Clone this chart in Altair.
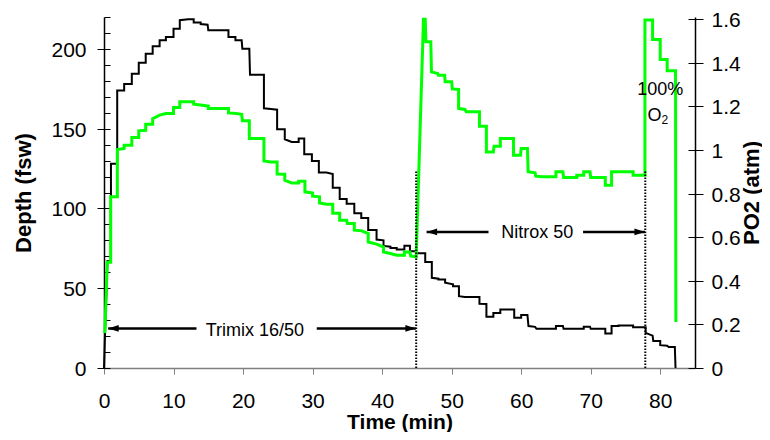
import altair as alt
import pandas as pd

# ---------------- data ----------------
# Depth profile vertices: (time [min], depth [fsw])
DEPTH_PROFILE = [
    (0, 0), (0.15, 22), (0.5, 67), (1.0, 67), (1.0, 128), (1.9, 128), (1.9, 174),
    (2.9, 174), (2.9, 178), (4.0, 178), (4.0, 184.4), (5.0, 184.4), (5.0, 191.3),
    (6.0, 191.3), (6.0, 197), (7.0, 197), (7.0, 201.6), (8.0, 201.6), (8.0, 205.4),
    (8.9, 205.4), (8.9, 207.5), (10.0, 207.5), (10.0, 212.7), (10.9, 212.7),
    (10.9, 218), (12.1, 218.6), (12.9, 218.6), (12.9, 216.5), (13.9, 216.5),
    (13.9, 215.6), (14.9, 215.2), (15.0, 211.7), (17.9, 211.7), (17.9, 207.5),
    (18.9, 207.5), (18.9, 205.4), (19.8, 205.4), (19.9, 200.1), (20.9, 200.1),
    (21.0, 183.8), (23.0, 183.8), (23.0, 162.8), (24.0, 162.3), (24.9, 161.9),
    (24.9, 149.7), (26.0, 149.7), (26.0, 143.4), (27.0, 141.7), (28.0, 141.7),
    (28.0, 143.9), (28.8, 143.9), (28.8, 134), (29.9, 134), (29.9, 129.8),
    (30.9, 129.8), (30.9, 122.5), (32.0, 122.5), (32.9, 121.6), (32.9, 113),
    (33.9, 113), (33.9, 106), (34.9, 106), (34.9, 103), (36.0, 103), (36.0, 97),
    (37.0, 97), (37.0, 94), (38.0, 94), (38.0, 86.5), (39.2, 86.5), (39.2, 80.5),
    (40.2, 80), (40.2, 76.5), (41.2, 76), (41.2, 75.2), (42.1, 75.2), (42.1, 74.3),
    (43.2, 74.3), (43.2, 76.7), (44.0, 76.7), (44.0, 73.2), (44.9, 73.2),
    (44.9, 72), (46.2, 72), (46.2, 66.5), (47.15, 66.5), (47.15, 56.5), (48.1, 56),
    (48.1, 55.5), (49.06, 55.5), (49.06, 53.5), (50.2, 52.5), (50.2, 51.3),
    (51.05, 51.3), (51.05, 45), (51.9, 44.5), (54.0, 44.5), (54.0, 40.3),
    (55.0, 40.1), (55.0, 32.1), (56.0, 32.1), (56.0, 34.4), (57.0, 34.4),
    (57.0, 36.6), (59.0, 36.6), (59.0, 31.5), (60.0, 31.5), (60.0, 33.2),
    (60.9, 33.2), (61.05, 26.3), (62.0, 25.8), (62.2, 24.6), (65.0, 24.6),
    (65.0, 26.3), (66.0, 26.3), (66.1, 24.6), (69.0, 24.6), (69.0, 25.8),
    (69.9, 25.8), (70.0, 24.6), (72.1, 24.6), (72.1, 21.7), (73.0, 21.7),
    (73.0, 26.3), (74.0, 26.3), (74.0, 26.7), (76.1, 26.7), (76.1, 25.6),
    (77.9, 25.6), (77.9, 22.0), (78.9, 20.3), (79.0, 17.0), (80.0, 17.0),
    (80.0, 14.3), (81.0, 14.0), (81.2, 13.2), (82.1, 13.2), (82.2, 0),
]

# PO2 vertices: (time [min], PO2 [atm])
PO2_PROFILE = [
    (0.12, 0.16), (0.47, 0.485), (0.96, 0.485), (0.96, 0.785), (1.92, 0.785),
    (1.92, 1.002), (2.9, 1.007), (2.9, 1.022), (4.0, 1.022), (4.0, 1.057),
    (5.0, 1.057), (5.0, 1.088), (6.0, 1.09), (6.0, 1.118), (7.0, 1.118),
    (7.0, 1.144), (8.0, 1.16), (8.9, 1.167), (10.0, 1.167), (10.0, 1.195),
    (10.9, 1.195), (10.9, 1.221), (12.9, 1.221), (12.9, 1.21), (13.9, 1.206),
    (15.0, 1.201), (15.0, 1.19), (17.9, 1.19), (17.9, 1.17), (19.0, 1.167),
    (19.8, 1.164), (19.9, 1.134), (20.9, 1.134), (20.9, 1.053), (23.0, 1.053),
    (23.0, 0.95), (24.0, 0.945), (24.9, 0.945), (24.9, 0.89), (26.0, 0.889),
    (26.0, 0.861), (27.0, 0.849), (28.0, 0.849), (28.0, 0.857), (28.9, 0.857),
    (28.9, 0.808), (30.0, 0.803), (30.0, 0.788), (31.0, 0.785), (31.0, 0.757),
    (32.0, 0.751), (32.9, 0.751), (32.9, 0.71), (33.9, 0.71), (33.9, 0.678),
    (34.9, 0.678), (35.0, 0.663), (36.0, 0.663), (36.0, 0.632), (37.0, 0.63),
    (38.0, 0.617), (38.0, 0.578), (39.2, 0.568), (40.2, 0.555), (40.2, 0.532),
    (41.2, 0.525), (42.1, 0.517), (43.2, 0.517), (43.2, 0.532), (44.0, 0.532),
    (44.1, 0.514), (44.9, 0.509), (45.95, 1.6), (46.2, 1.6), (46.3, 1.496),
    (47.0, 1.496), (47.1, 1.358), (48.0, 1.351), (48.1, 1.343), (49.0, 1.343),
    (49.06, 1.313), (50.0, 1.313), (50.1, 1.28), (51.0, 1.278), (51.0, 1.19),
    (51.9, 1.186), (52.1, 1.175), (54.0, 1.175), (54.0, 1.109), (55.0, 1.109),
    (55.0, 0.991), (56.0, 0.991), (56.1, 1.017), (57.0, 1.017), (57.0, 1.053),
    (58.9, 1.053), (58.9, 0.976), (59.9, 0.976), (60.0, 1.007), (60.9, 1.007),
    (61.0, 0.9), (62.0, 0.895), (62.1, 0.88), (63.0, 0.877), (65.0, 0.877),
    (65.0, 0.9), (66.0, 0.9), (66.1, 0.874), (68.0, 0.874), (68.0, 0.884),
    (69.0, 0.884), (69.0, 0.9), (69.9, 0.9), (70.0, 0.874), (72.1, 0.874),
    (72.1, 0.838), (73.0, 0.838), (73.0, 0.9), (76.1, 0.9), (76.1, 0.884),
    (77.8, 0.884), (77.8, 1.596), (78.9, 1.596), (78.9, 1.507), (80.0, 1.507),
    (80.0, 1.415), (81.0, 1.415), (81.0, 1.363), (82.2, 1.363), (82.25, 0.211),
]

X_TICKS = [0, 10, 20, 30, 40, 50, 60, 70, 80]
DEPTH_TICKS = [0, 50, 100, 150, 200]
DEPTH_MINOR = list(range(0, 221, 10))
PO2_TICKS = [0, 0.2, 0.4, 0.6, 0.8, 1, 1.2, 1.4, 1.6]

# gas switch markers (time, top depth)
SWITCH_TIMES = [44.9, 77.85]
SWITCH_TOP = [124, 124]

# arrows: tail time, tip time, depth
ARROW_TAIL = [13.3, 30.6, 55.3, 68.9]
ARROW_TIP = [0.6, 44.85, 46.4, 77.8]
ARROW_DEPTH = [24.8, 24.8, 85.3, 85.3]

GAS_LABELS = ["Trimix 16/50", "Nitrox 50"]
GAS_LABEL_T = [21.7, 62.3]
GAS_LABEL_D = [23.5, 84.5]

O2_TEXT = ["100%", "O", "2"]
O2_T = [80.0, 79.16, 80.65]
O2_P = [1.273, 1.157, 1.138]
O2_SIZE = [18, 18, 12]

# ---------------- chart ----------------
W, H = 591, 351
FONT = "Liberation Sans"

depth_df = pd.DataFrame({
    "i": range(len(DEPTH_PROFILE)),
    "t": [p[0] for p in DEPTH_PROFILE],
    "d": [p[1] for p in DEPTH_PROFILE],
})
po2_df = pd.DataFrame({
    "i": range(len(PO2_PROFILE)),
    "t": [p[0] for p in PO2_PROFILE],
    "p": [p[1] for p in PO2_PROFILE],
})

x_scale = alt.Scale(domain=[0, 85], nice=False, zero=False)
d_scale = alt.Scale(domain=[0, 220], nice=False, zero=True)
p_scale = alt.Scale(domain=[0, 1.61], nice=False, zero=True)

x_axis = alt.Axis(
    values=X_TICKS, title="Time (min)", titleFont=FONT, titleFontSize=21,
    titleFontWeight="bold", titleColor="black", titleX=W / 2, titleY=43,
    titleBaseline="top", labelFont=FONT, labelFontSize=21, labelColor="black",
    labelPadding=16, labelFlush=False, labelOverlap=False, tickSize=6,
    tickColor="#808080", domainColor="#808080", domainWidth=1.5, grid=False,
)
d_axis = alt.Axis(
    values=DEPTH_TICKS, orient="left", title="Depth (fsw)", titleFont=FONT,
    titleFontSize=22, titleFontWeight="bold", titleColor="black",
    titleAngle=270, titleBaseline="bottom", titleX=-69, titleY=H / 2,
    labelFont=FONT, labelFontSize=21, labelColor="black", labelPadding=11,
    labelOffset=1.5, tickSize=7, tickColor="black", domainColor="black",
    domainWidth=1.5, grid=False,
)
p_axis = alt.Axis(
    values=PO2_TICKS, orient="right", format="~g", title="PO2 (atm)",
    titleFont=FONT, titleFontSize=22, titleFontWeight="bold",
    titleColor="black", titleAngle=270, titleBaseline="top", titleX=46,
    titleY=H / 2, labelFont=FONT, labelFontSize=21, labelColor="black",
    labelPadding=8, labelOffset=1.5, tickSize=8, tickColor="black",
    domainColor="black", domainWidth=1.5, grid=False,
)


def xenc(field):
    return alt.X(field, type="quantitative", scale=x_scale, axis=x_axis)


depth_line = alt.Chart(depth_df).mark_line(color="black", strokeWidth=2).encode(
    x=xenc("t"), y=alt.Y("d:Q", scale=d_scale, axis=d_axis), order="i:Q"
)
po2_line = alt.Chart(po2_df).mark_line(color="#00ff00", strokeWidth=3).encode(
    x=xenc("t"), y=alt.Y("p:Q", scale=p_scale, axis=p_axis), order="i:Q"
)

# inner tick marks (ticks drawn into the plot on both value axes)
d_inner = alt.Chart(pd.DataFrame({"v": [0, 220]})).mark_point(opacity=0).encode(
    x=alt.value(0),
    y=alt.Y("v:Q", scale=d_scale, axis=alt.Axis(
        orient="right", offset=-W, values=DEPTH_MINOR, labels=False,
        domain=False, tickSize=6, tickColor="black", grid=False, title=None)),
)
p_inner = alt.Chart(pd.DataFrame({"v": [0, 1.61]})).mark_point(opacity=0).encode(
    x=alt.value(0),
    y=alt.Y("v:Q", scale=p_scale, axis=alt.Axis(
        orient="left", offset=-W, values=PO2_TICKS, labels=False,
        domain=False, tickSize=7, tickColor="black", grid=False, title=None)),
)

switch_df = pd.DataFrame({"t": SWITCH_TIMES, "y0": [0, 0], "top": SWITCH_TOP})
switch_rules = alt.Chart(switch_df).mark_rule(
    color="black", strokeWidth=2, strokeDash=[1.5, 1.5]
).encode(
    x=xenc("t"),
    y=alt.Y("y0:Q", scale=d_scale, axis=None), y2="top:Q",
)

arrow_df = pd.DataFrame({
    "tail": ARROW_TAIL, "tip": ARROW_TIP, "d": ARROW_DEPTH,
})
arrow_df["head"] = [
    "M0,0L1,-0.32L1,0.32Z" if tip < tail else "M0,0L-1,-0.32L-1,0.32Z"
    for tail, tip in zip(ARROW_TAIL, ARROW_TIP)
]
arrow_shafts = alt.Chart(arrow_df).mark_rule(color="black", strokeWidth=2.5).encode(
    x=xenc("tail"), x2="tip:Q",
    y=alt.Y("d:Q", scale=d_scale, axis=None),
)
arrow_heads = alt.Chart(arrow_df).mark_point(
    filled=True, color="black", opacity=1, size=440, strokeWidth=0
).encode(
    x=xenc("tip"),
    y=alt.Y("d:Q", scale=d_scale, axis=None),
    shape=alt.Shape("head:N", scale=None),
)

label_df = pd.DataFrame({"t": GAS_LABEL_T, "d": GAS_LABEL_D, "txt": GAS_LABELS})
gas_labels = alt.Chart(label_df).mark_text(
    font=FONT, fontSize=18, color="black", align="center", baseline="middle"
).encode(
    x=xenc("t"),
    y=alt.Y("d:Q", scale=d_scale, axis=None), text="txt:N",
)

o2_df = pd.DataFrame({"t": O2_T, "p": O2_P, "txt": O2_TEXT, "fs": O2_SIZE})
o2_labels = alt.Chart(o2_df).mark_text(
    font=FONT, color="black", align="center", baseline="middle"
).encode(
    x=xenc("t"),
    y=alt.Y("p:Q", scale=p_scale, axis=None), text="txt:N",
    size=alt.Size("fs:Q", scale=None),
)

chart = alt.layer(
    depth_line, po2_line, d_inner, p_inner, switch_rules,
    arrow_shafts, arrow_heads, gas_labels, o2_labels,
).resolve_scale(y="independent").properties(
    width=W, height=H,
    autosize=alt.AutoSizeParams(type="none"),
    padding={"left": 96, "top": 9, "right": 67, "bottom": 64},
    background="white",
).configure_view(stroke=None)

chart.save("out.html", embed_options={"renderer": "svg", "actions": False})
